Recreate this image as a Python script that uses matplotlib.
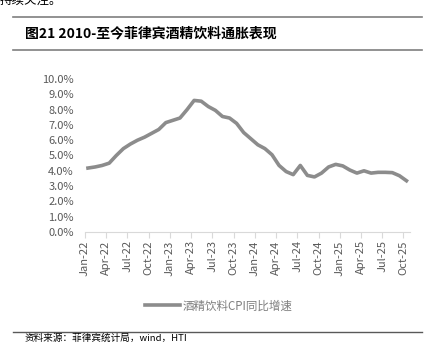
import matplotlib
import numpy as np
import matplotlib.pyplot as plt
from matplotlib.lines import Line2D
from matplotlib.ticker import FuncFormatter

matplotlib.rcParams['font.family'] = ['Noto Sans CJK SC', 'DejaVu Sans']
matplotlib.rcParams['axes.unicode_minus'] = False

# 月度数据 Jan-22 ~ Oct-25
months = ['Jan-22', 'Feb-22', 'Mar-22', 'Apr-22', 'May-22', 'Jun-22', 'Jul-22', 'Aug-22', 'Sep-22',
          'Oct-22', 'Nov-22', 'Dec-22', 'Jan-23', 'Feb-23', 'Mar-23', 'Apr-23', 'May-23', 'Jun-23',
          'Jul-23', 'Aug-23', 'Sep-23', 'Oct-23', 'Nov-23', 'Dec-23', 'Jan-24', 'Feb-24', 'Mar-24',
          'Apr-24', 'May-24', 'Jun-24', 'Jul-24', 'Aug-24', 'Sep-24', 'Oct-24', 'Nov-24', 'Dec-24',
          'Jan-25', 'Feb-25', 'Mar-25', 'Apr-25', 'May-25', 'Jun-25', 'Jul-25', 'Aug-25', 'Sep-25',
          'Oct-25']
cpi_yoy = [4.18, 4.25, 4.35, 4.5, 5.0, 5.45, 5.75, 6.0, 6.2, 6.45, 6.7, 7.15,
           7.3, 7.45, 8.0, 8.6, 8.55, 8.2, 7.95, 7.55, 7.45, 7.1, 6.5, 6.1,
           5.7, 5.45, 5.05, 4.35, 3.95, 3.75, 4.35, 3.7, 3.6, 3.85, 4.25, 4.42,
           4.32, 4.05, 3.85, 4.0, 3.85, 3.9, 3.9, 3.88, 3.68, 3.35]
yticks = np.arange(0, 10.5, 1.0)

W, H = 434, 364
fig = plt.figure(figsize=(W / 100, H / 100), dpi=100)

# 上下分隔线与标题
fig.add_artist(Line2D([13 / W, 422 / W], [1 - 17 / H, 1 - 17 / H], color='#7f7f7f', lw=1.2))
fig.add_artist(Line2D([13 / W, 422 / W], [1 - 50 / H, 1 - 50 / H], color='#7f7f7f', lw=1.2))
fig.add_artist(Line2D([13 / W, 422 / W], [1 - 332 / H, 1 - 332 / H], color='#595959', lw=1.0))
fig.text(0 / W, 1 + 6 / H, '持续关注。', fontsize=9, va='top', ha='left')
fig.text(25 / W, 1 - 33 / H, '图21 2010-至今菲律宾酒精饮料通胀表现', fontsize=10,
         fontweight='bold', va='center', ha='left')
fig.text(25 / W, 1 - 338 / H, '资料来源：菲律宾统计局，wind，HTI', fontsize=6.9,
         va='center', ha='left')

ax = fig.add_axes([85 / W, 1 - 232 / H, 325 / W, 153 / H])
x = np.arange(len(cpi_yoy))
ax.plot(x, cpi_yoy, color='#8c8c8c', lw=2.6, solid_joinstyle='round',
        label='酒精饮料CPI同比增速')

ax.set_xlim(-0.42, 45.5)
ax.set_ylim(0, 10)
ticks = x[::3]
ax.set_xticks(ticks - 0.42)
ax.set_xticklabels([months[i] for i in ticks], rotation=90, fontsize=8, color='#595959')
ax.set_yticks(yticks)
ax.yaxis.set_major_formatter(FuncFormatter(lambda v, p: '%.1f%%' % v))
ax.tick_params(axis='y', length=0, labelsize=8, labelcolor='#595959', pad=8)
ax.tick_params(axis='x', length=4, color='#d9d9d9', width=0.8, pad=2)
for s in ['top', 'right', 'left']:
    ax.spines[s].set_visible(False)
ax.spines['bottom'].set_color('#d9d9d9')
ax.spines['bottom'].set_linewidth(0.8)

leg = fig.legend(loc='center', bbox_to_anchor=(219 / W, 1 - 306 / H), frameon=False,
                 fontsize=8.3, handlelength=3.0, handletextpad=0.3)
for t in leg.get_texts():
    t.set_color('#7f7f7f')

fig.savefig('out.png', dpi=100)
